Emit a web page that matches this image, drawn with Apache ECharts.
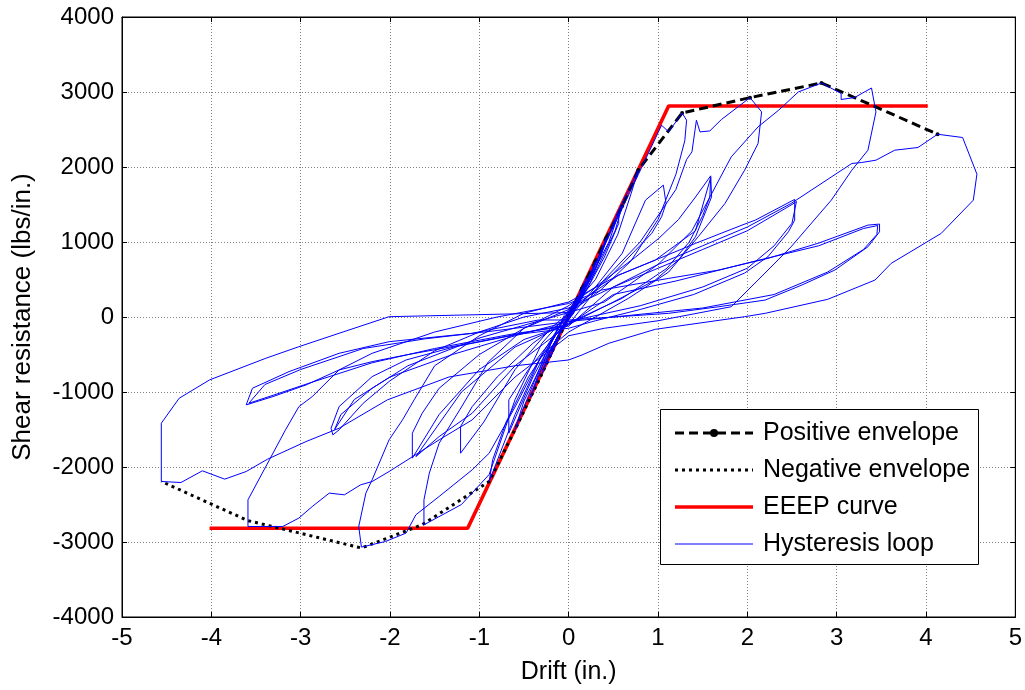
<!DOCTYPE html>
<html>
<head>
<meta charset="utf-8">
<title>Shear wall hysteresis</title>
<script src="https://cdn.jsdelivr.net/npm/echarts@6.0.0/dist/echarts.min.js"></script>
<style>
  html, body { margin: 0; padding: 0; background: #fff; }
  #chart { width: 1025px; height: 690px; }
</style>
</head>
<body>
<div id="chart"></div>
<script>
// [drift (in.), shear resistance (lbs/in.)]
var posEnvelope = [[0, 0], [0.15, 380], [0.3, 740], [0.42, 1050], [0.6, 1480], [0.78, 1960],
  [1.27, 2720], [2.03, 2925], [2.83, 3120], [4.13, 2437]];
var negEnvelope = [[0, 0], [-0.15, -370], [-0.3, -760], [-0.43, -1080], [-0.6, -1500], [-0.89, -2193],
  [-1.64, -2770], [-2.32, -3080], [-3.59, -2715], [-4.56, -2193]];
var eeep = [[-4.02, -2815], [-1.13, -2815], [1.12, 2815], [4.02, 2815]];

// hysteresis trace, one array per group of cycles
var loopSmall = [[0, 0], [0.08, 200], [0.15, 380], [0.1, 220], [0, 30], [-0.08, -180], [-0.15, -370], [-0.1, -210], [0, -20],
  [0.1, 250], [0.2, 520], [0.15, 330], [0.05, 90], [-0.1, -230], [-0.2, -530], [-0.14, -320], [-0.03, -60],
  [0.12, 260], [0.3, 740], [0.22, 450], [0.08, 150], [-0.1, -200], [-0.3, -760], [-0.22, -480], [-0.06, -120],
  [0.15, 280], [0.42, 1050], [0.35, 780], [0.15, 330], [-0.05, 20], [-0.2, -360], [-0.43, -1080], [-0.34, -760], [-0.12, -250], [0.05, 60]];
var loop06 = [[0.25, 480], [0.45, 1100], [0.6, 1480], [0.52, 1150], [0.3, 600], [0.05, 150], [-0.2, -320], [-0.45, -1050],
  [-0.6, -1500], [-0.5, -1120], [-0.28, -580], [-0.02, -60],
  [0.2, 420], [0.45, 1000], [0.56, 1381], [0.56, 1248], [0.4, 800], [0.15, 250], [-0.15, -250], [-0.4, -800],
  [-0.67, -1549], [-0.67, -1105], [-0.45, -700], [-0.15, -250], [0.05, 40]];
var loop08 = [[0.3, 650], [0.55, 1400], [0.78, 1960], [0.76, 1935], [0.7, 1650], [0.55, 1100], [0.3, 500], [0, 80],
  [-0.3, -500], [-0.6, -1300], [-0.89, -2193], [-0.85, -1900], [-0.7, -1400], [-0.45, -800], [-0.15, -250], [0.05, 50],
  [0.3, 400], [0.6, 850], [0.86, 1558], [1.06, 1758], [1.08, 1735], [1.09, 1514], [1.04, 1336], [0.93, 1115], [0.75, 892],
  [0.45, 520], [0.1, 150], [-0.2, -150], [-0.6, -700], [-0.95, -1400], [-1.21, -1816], [-1.21, -1461], [-1.08, -1195],
  [-0.8, -800], [-0.4, -350], [0, 0]];
var loop13 = [[0.2, 450], [0.5, 1200], [0.78, 1900], [1.04, 2557], [1.12, 2468], [1.27, 2720], [1.32, 2624], [1.3, 2350],
  [1.2, 1900], [1.0, 1300], [0.7, 750], [0.35, 350], [0, 50], [-0.3, -350], [-0.6, -1100], [-0.89, -2100], [-1.2, -2500],
  [-1.62, -2771], [-1.62, -2438], [-1.56, -2082], [-1.45, -1683], [-1.2, -1200], [-0.9, -600], [-0.5, -150], [0, 150],
  [0.3, 400], [0.75, 800], [1.01, 1050], [1.23, 1300], [1.42, 1600], [1.59, 1882], [1.6, 1602], [1.54, 1425], [1.42, 1070],
  [1.23, 760], [0.97, 493], [0.5, 200], [0, -100], [-0.5, -300], [-1.0, -700], [-1.45, -1300], [-1.75, -1882], [-1.75, -1549],
  [-1.64, -1283], [-1.45, -950], [-1.0, -500], [-0.5, -150], [0, 100],
  [0.56, 559], [0.97, 759], [1.42, 1150], [1.59, 1860], [1.58, 1600], [1.5, 1350], [1.35, 1000], [1.1, 650], [0.6, 250],
  [0, -80], [-0.6, -400], [-1.2, -1000], [-1.71, -1861], [-1.45, -1594], [-1.08, -1283], [-0.6, -650], [0, -100]];
var loop20 = [[0.4, 500], [0.8, 1000], [1.2, 1700], [1.32, 2100], [1.38, 2202], [1.43, 2624], [1.47, 2468], [1.58, 2481],
  [1.71, 2633], [2.03, 2925], [2.16, 2735], [2.18, 2713], [2.12, 2313], [1.97, 1958], [1.75, 1514], [1.45, 1070],
  [1.12, 600], [0.67, 250], [0.3, 0], [0, -200], [-0.3, -500], [-0.6, -1200], [-0.89, -1816], [-1.08, -2038], [-1.45, -2393],
  [-1.71, -2637], [-1.82, -2881], [-2.05, -2993], [-2.32, -3068], [-2.35, -2793], [-2.27, -2348], [-2.2, -2171],
  [-2.01, -1638], [-1.86, -1372], [-1.73, -1105], [-1.5, -650], [-1.0, -250], [-0.5, 50], [0, 200],
  [0.56, 559], [0.97, 759], [1.42, 982], [1.94, 1225], [2.09, 1292], [2.53, 1568], [2.53, 1292], [2.46, 1136],
  [2.23, 803], [1.97, 586], [1.4, 300], [0.8, 100], [0.3, -50], [0, -150], [-0.56, -230], [-1.27, -395], [-1.82, -573],
  [-2.2, -795], [-2.57, -1195], [-2.66, -1483], [-2.64, -1572], [-2.57, -1505], [-2.3, -1150], [-2.0, -850], [-1.5, -450],
  [-1.0, -200], [-0.5, 0], [0, 120],
  [0.5, 400], [1.0, 650], [1.5, 900], [2.0, 1150], [2.5, 1500], [2.55, 1540], [2.5, 1250], [2.3, 950], [2.0, 650],
  [1.5, 400], [0.8, 150], [0, -60], [-0.6, -250], [-1.3, -500], [-2.0, -800], [-2.4, -1100], [-2.62, -1500], [-2.55, -1300],
  [-2.2, -950], [-1.8, -650], [-1.0, -280], [0, 60]];
var loop28 = [[0.4, 200], [1.0, 700], [1.38, 1150], [1.82, 2135], [2.12, 2535], [2.35, 2757], [2.57, 3000], [2.83, 3120],
  [3.05, 2980], [3.05, 2900], [3.2, 2926], [3.39, 3053], [3.44, 2735], [3.35, 2224], [3.17, 1958], [2.94, 1558], [2.49, 936],
  [2.12, 493], [1.82, 137], [1.0, -50], [0.4, -150], [0, -250], [-0.6, -800], [-1.08, -1372], [-1.45, -1638], [-2.01, -2060],
  [-2.2, -2194], [-2.33, -2238], [-2.51, -2371], [-2.68, -2348], [-2.87, -2527], [-3.02, -2681], [-3.2, -2793],
  [-3.59, -2793], [-3.59, -2438], [-3.35, -1905], [-3.17, -1505], [-3.02, -1195], [-2.87, -1061], [-2.57, -706],
  [-2.2, -484], [-1.5, -200], [-0.8, 0], [0, 180],
  [0.37, 360], [1.12, 515], [1.68, 626], [2.23, 782], [2.79, 982], [3.35, 1225], [3.48, 1239], [3.48, 1136],
  [3.35, 936], [2.98, 626], [2.61, 426], [2.2, 226], [1.68, 137], [1.12, 49], [0.56, 4], [0, -40], [-0.34, -40],
  [-1.08, -217], [-2.01, -329], [-2.57, -484], [-3.13, -728], [-3.54, -950], [-3.61, -1172], [-3.31, -1061], [-2.94, -906],
  [-2.57, -706], [-2.2, -595], [-1.82, -506], [-1.08, -346], [-0.34, -173], [0, -100],
  [0.5, 300], [1.2, 480], [2.0, 720], [2.8, 950], [3.3, 1180], [3.46, 1220], [3.45, 1100], [3.3, 900], [2.9, 600],
  [2.3, 300], [1.5, 120], [0.5, 0], [0, -60], [-0.8, -180], [-1.6, -290], [-2.3, -420], [-3.0, -700], [-3.4, -900],
  [-3.58, -1150], [-3.3, -1040], [-2.9, -880], [-2.2, -610], [-1.5, -420], [-0.6, -220], [0, -120]];
var loopLast = [[0.5, 400], [1.0, 700], [1.5, 950], [2.0, 1200], [2.49, 1514], [3.17, 2047], [3.28, 2060], [3.44, 2091],
  [3.65, 2224], [3.91, 2260], [4.13, 2437], [4.41, 2393], [4.57, 1905], [4.53, 1558], [4.17, 1115], [3.61, 715],
  [3.43, 493], [2.9, 236], [2.2, 49], [1.97, 4], [0.97, -164], [0.45, -350], [0.15, -506], [0, -573], [-0.6, -650],
  [-1.34, -800], [-2.03, -1105], [-2.57, -1483], [-2.94, -1661], [-3.37, -1895], [-3.61, -2060], [-3.85, -2162],
  [-4.1, -2051], [-4.34, -2207], [-4.56, -2193], [-4.56, -1416], [-4.36, -1083], [-4.02, -839], [-3.39, -550],
  [-3.02, -396], [-2.57, -217], [-2.01, 4], [-0.34, 49], [0, 60]];

var hysteresis = [].concat(loopSmall, loop06, loop08, loop13, loop20, loop28, loopLast);

var legendNames = ['Positive envelope', 'Negative envelope', 'EEEP curve', 'Hysteresis loop'];

var chart = echarts.init(document.getElementById('chart'));

var FONT = 'Liberation Sans, Arial, sans-serif';
var gridLine = { show: true, lineStyle: { color: '#808080', width: 1, type: [1, 2] } };

// legend box drawn by hand (matlab style)
var lgX = 660, lgY = 409, lgRow = 37;
var legendGraphics = [{
  type: 'rect', left: lgX, top: lgY, z: 100,
  shape: { width: 318, height: 155 },
  style: { fill: '#fff', stroke: '#000', lineWidth: 1 }
}];
var sampleStyles = [
  { stroke: '#000', lineWidth: 3, lineDash: [9, 5] },
  { stroke: '#000', lineWidth: 3, lineDash: [3, 4] },
  { stroke: '#ff0000', lineWidth: 3.5 },
  { stroke: '#0000ff', lineWidth: 1 }
];
legendNames.forEach(function (name, i) {
  var cy = lgY + 24 + i * lgRow;
  legendGraphics.push({
    type: 'line', z: 101,
    shape: { x1: lgX + 15, y1: cy, x2: lgX + 93, y2: cy },
    style: sampleStyles[i]
  });
  legendGraphics.push({
    type: 'text', z: 101, x: lgX + 103, y: cy,
    style: { text: name, font: '25px ' + FONT, fill: '#000', verticalAlign: 'middle' }
  });
});
legendGraphics.push({
  type: 'circle', z: 102,
  shape: { cx: lgX + 54, cy: lgY + 24, r: 4 },
  style: { fill: '#000' }
});

var plainNum = function (v) { return String(v); };

var option = {
  animation: false,
  backgroundColor: '#fff',
  textStyle: { fontFamily: FONT },
  grid: { left: 122, right: 7, top: 17, bottom: 72, show: true, borderColor: '#000', borderWidth: 1 },
  xAxis: [{
    type: 'value', min: -5, max: 5, interval: 1,
    name: 'Drift (in.)', nameLocation: 'middle', nameGap: 43,
    nameTextStyle: { fontSize: 25, color: '#000' },
    axisLine: { show: true, onZero: false, lineStyle: { color: '#000', width: 1 } },
    axisTick: { show: true, inside: true, length: 5, lineStyle: { color: '#000' } },
    axisLabel: { fontSize: 24, color: '#000', margin: 9, formatter: plainNum },
    splitLine: gridLine
  }, {
    type: 'value', min: -5, max: 5, interval: 1, position: 'top',
    axisLine: { show: true, onZero: false, lineStyle: { color: '#000' } },
    axisTick: { show: true, inside: true, length: 5, lineStyle: { color: '#000' } },
    axisLabel: { show: false }, splitLine: { show: false }
  }],
  yAxis: [{
    type: 'value', min: -4000, max: 4000, interval: 1000,
    name: 'Shear resistance (lbs/in.)', nameLocation: 'middle', nameGap: 86,
    nameTextStyle: { fontSize: 26, color: '#000' },
    axisLine: { show: true, onZero: false, lineStyle: { color: '#000', width: 1 } },
    axisTick: { show: true, inside: true, length: 5, lineStyle: { color: '#000' } },
    axisLabel: { fontSize: 24, color: '#000', margin: 8, formatter: plainNum },
    splitLine: gridLine
  }, {
    type: 'value', min: -4000, max: 4000, interval: 1000, position: 'right',
    axisLine: { show: true, onZero: false, lineStyle: { color: '#000' } },
    axisTick: { show: true, inside: true, length: 5, lineStyle: { color: '#000' } },
    axisLabel: { show: false }, splitLine: { show: false }
  }],
  series: [{
    name: legendNames[0], type: 'line', data: posEnvelope, z: 4,
    symbol: 'circle', symbolSize: 4, itemStyle: { color: '#000' },
    lineStyle: { color: '#000', width: 3, type: [9, 5] }
  }, {
    name: legendNames[1], type: 'line', data: negEnvelope, z: 4,
    symbol: 'none', lineStyle: { color: '#000', width: 3, type: [3, 4] }
  }, {
    name: legendNames[2], type: 'line', data: eeep, z: 3,
    symbol: 'none', lineStyle: { color: '#ff0000', width: 3.5 }
  }, {
    name: legendNames[3], type: 'line', data: hysteresis, z: 5,
    symbol: 'none', lineStyle: { color: '#0000ff', width: 1 }
  }],
  graphic: legendGraphics
};

chart.setOption(option);
</script>
</body>
</html>
